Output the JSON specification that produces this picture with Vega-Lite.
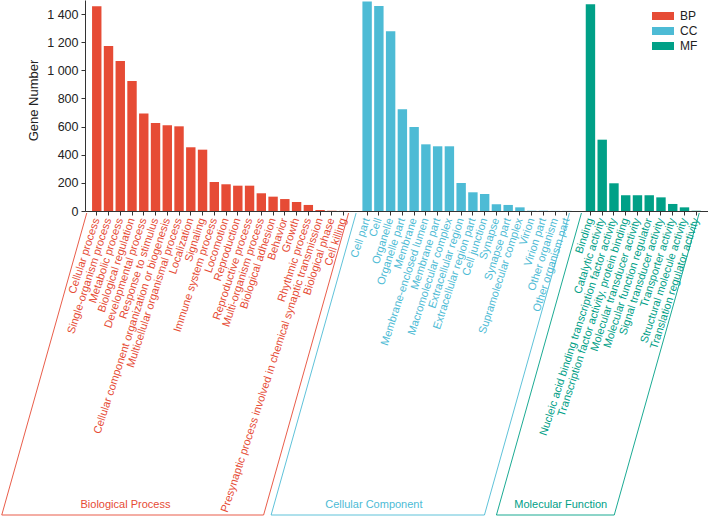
{
  "$schema": "https://vega.github.io/schema/vega-lite/v6.json",
  "width": 623,
  "height": 211,
  "autosize": {"type": "none"},
  "padding": {"left": 85, "top": 0, "right": 0, "bottom": 306},
  "config": {"font": "Liberation Sans", "view": {"stroke": null}},
  "resolve": {"axis": {"x": "independent", "y": "independent"}},
  "layer": [
    {
      "data": {"values": [
        {"term": "Cellular process", "group": "BP", "count": 1455},
        {"term": "Single-organism process", "group": "BP", "count": 1173},
        {"term": "Metabolic process", "group": "BP", "count": 1066},
        {"term": "Biological regulation", "group": "BP", "count": 924},
        {"term": "Developmental process", "group": "BP", "count": 694},
        {"term": "Response to stimulus", "group": "BP", "count": 626},
        {"term": "Cellular component organization or biogenesis", "group": "BP", "count": 609},
        {"term": "Multicellular organismal process", "group": "BP", "count": 602},
        {"term": "Localization", "group": "BP", "count": 453},
        {"term": "Signaling", "group": "BP", "count": 436},
        {"term": "Immune system process", "group": "BP", "count": 206},
        {"term": "Locomotion", "group": "BP", "count": 190},
        {"term": "Reproduction", "group": "BP", "count": 180},
        {"term": "Reproductive process", "group": "BP", "count": 180},
        {"term": "Multi-organism process", "group": "BP", "count": 126},
        {"term": "Biological adhesion", "group": "BP", "count": 102},
        {"term": "Behavior", "group": "BP", "count": 85},
        {"term": "Growth", "group": "BP", "count": 64},
        {"term": "Rhythmic process", "group": "BP", "count": 43},
        {"term": "Presynaptic process involved in chemical synaptic transmission", "group": "BP", "count": 7},
        {"term": "Biological phase", "group": "BP", "count": 2},
        {"term": "Cell killing", "group": "BP", "count": 1},
        {"term": "Cell part", "group": "CC", "count": 1490},
        {"term": "Cell", "group": "CC", "count": 1457},
        {"term": "Organelle", "group": "CC", "count": 1277},
        {"term": "Organelle part", "group": "CC", "count": 723},
        {"term": "Membrane", "group": "CC", "count": 597},
        {"term": "Membrane-enclosed lumen", "group": "CC", "count": 474},
        {"term": "Membrane part", "group": "CC", "count": 460},
        {"term": "Macromolecular complex", "group": "CC", "count": 460},
        {"term": "Extracellular region", "group": "CC", "count": 199},
        {"term": "Extracellular region part", "group": "CC", "count": 133},
        {"term": "Cell junction", "group": "CC", "count": 121},
        {"term": "Synapse", "group": "CC", "count": 48},
        {"term": "Synapse part", "group": "CC", "count": 43},
        {"term": "Supramolecular complex", "group": "CC", "count": 26},
        {"term": "Virion", "group": "CC", "count": 2},
        {"term": "Virion part", "group": "CC", "count": 2},
        {"term": "Other organism", "group": "CC", "count": 1},
        {"term": "Other organism part", "group": "CC", "count": 1},
        {"term": "Binding", "group": "MF", "count": 1469},
        {"term": "Catalytic activity", "group": "MF", "count": 507},
        {"term": "Nucleic acid binding transcription factor activity", "group": "MF", "count": 197},
        {"term": "Transcription factor activity, protein binding", "group": "MF", "count": 112},
        {"term": "Molecular transducer activity", "group": "MF", "count": 112},
        {"term": "Molecular function regulator", "group": "MF", "count": 112},
        {"term": "Signal transducer activity", "group": "MF", "count": 97},
        {"term": "Transporter activity", "group": "MF", "count": 50},
        {"term": "Structural molecule activity", "group": "MF", "count": 26},
        {"term": "Translation regulator activity", "group": "MF", "count": 2}
      ]},
      "mark": {"type": "bar"},
      "encoding": {
        "x": {
          "field": "term", "type": "nominal",
          "scale": {
            "domain": ["Cellular process", "Single-organism process", "Metabolic process", "Biological regulation", "Developmental process", "Response to stimulus", "Cellular component organization or biogenesis", "Multicellular organismal process", "Localization", "Signaling", "Immune system process", "Locomotion", "Reproduction", "Reproductive process", "Multi-organism process", "Biological adhesion", "Behavior", "Growth", "Rhythmic process", "Presynaptic process involved in chemical synaptic transmission", "Biological phase", "Cell killing", " ", "Cell part", "Cell", "Organelle", "Organelle part", "Membrane", "Membrane-enclosed lumen", "Membrane part", "Macromolecular complex", "Extracellular region", "Extracellular region part", "Cell junction", "Synapse", "Synapse part", "Supramolecular complex", "Virion", "Virion part", "Other organism", "Other organism part", "  ", "Binding", "Catalytic activity", "Nucleic acid binding transcription factor activity", "Transcription factor activity, protein binding", "Molecular transducer activity", "Molecular function regulator", "Signal transducer activity", "Transporter activity", "Structural molecule activity", "Translation regulator activity"],
            "paddingInner": 0.2,
            "paddingOuter": 0.6
          },
          "axis": {
            "title": null,
            "labelAngle": -72,
            "labelAlign": "right",
            "labelBaseline": "middle",
            "labelFontSize": 11,
            "labelLimit": 400,
            "labelOverlap": false,
            "labelPadding": 3,
            "tickSize": 4,
            "tickColor": "#333333",
            "domainColor": "#333333",
            "labelColor": {"condition": [{"test": "datum.index < 0.43", "value": "#E64B35"}, {"test": "datum.index < 0.8", "value": "#4DBBD5"}], "value": "#00A087"},
            "tickOpacity": {"condition": {"test": "trim(datum.value) === ''", "value": 0}, "value": 1}
          }
        },
        "y": {
          "field": "count", "type": "quantitative",
          "scale": {"domain": [0, 1500], "nice": false},
          "axis": {
            "title": "Gene Number",
            "titleFontSize": 13,
            "titleFontWeight": "normal",
            "titleColor": "#222222",
            "titleX": -52,
            "titleY": 100,
            "titleAlign": "center",
            "titleBaseline": "middle",
            "values": [0, 200, 400, 600, 800, 1000, 1200, 1400],
            "labelExpr": "replace(format(datum.value, ','), ',', ' ')",
            "labelOverlap": false,
            "labelFontSize": 12.5,
            "labelColor": "#222222",
            "labelPadding": 3,
            "tickSize": 4,
            "tickColor": "#333333",
            "domainColor": "#333333",
            "grid": false
          }
        },
        "color": {
          "field": "group", "type": "nominal",
          "scale": {"domain": ["BP", "CC", "MF"], "range": ["#E64B35", "#4DBBD5", "#00A087"]},
          "legend": {
            "title": null,
            "orient": "none",
            "legendX": 572,
            "legendY": 10,
            "padding": 0,
            "symbolType": "M-2.75,-1H2.75V1H-2.75Z",
            "symbolSize": 64,
            "symbolStrokeWidth": 0,
            "labelFontSize": 12,
            "labelColor": "#222222",
            "labelOffset": 11,
            "rowPadding": 3
          }
        }
      }
    },
    {
      "data": {"values": [
        {"group": "BP", "name": "Biological Process", "first": "Cellular process", "last": "Cell killing"},
        {"group": "CC", "name": "Cellular Component", "first": "Cell part", "last": "Other organism part"},
        {"group": "MF", "name": "Molecular Function", "first": "Binding", "last": "Translation regulator activity"}
      ]},
      "encoding": {
        "color": {"condition": [{"test": "datum.group === 'BP'", "value": "#E64B35"}, {"test": "datum.group === 'CC'", "value": "#4DBBD5"}], "value": "#00A087"}
      },
      "layer": [
        {
          "mark": {"type": "rule", "strokeWidth": 0.9, "yOffset": 2, "y2Offset": 304,
            "xOffset": {"expr": "datum.group === 'BP' ? -10 : datum.group === 'CC' ? -11 : -9"},
            "x2Offset": {"expr": "datum.group === 'BP' ? -95 : datum.group === 'CC' ? -96 : -94"}},
          "encoding": {
            "x": {"field": "first", "type": "nominal", "axis": null},
            "x2": {"field": "first"},
            "y": {"datum": 0, "type": "quantitative", "axis": null},
            "y2": {"datum": 0}
          }
        },
        {
          "mark": {"type": "rule", "strokeWidth": 0.9, "yOffset": 2, "y2Offset": 304,
            "xOffset": {"expr": "datum.group === 'BP' ? 5 : datum.group === 'CC' ? 2.5 : 3"},
            "x2Offset": {"expr": "datum.group === 'BP' ? -80 : datum.group === 'CC' ? -82.5 : -82"}},
          "encoding": {
            "x": {"field": "last", "type": "nominal", "axis": null},
            "x2": {"field": "last"},
            "y": {"datum": 0, "type": "quantitative", "axis": null},
            "y2": {"datum": 0}
          }
        },
        {
          "mark": {"type": "rule", "strokeWidth": 0.9, "yOffset": 304,
            "xOffset": {"expr": "datum.group === 'BP' ? -95 : datum.group === 'CC' ? -96 : -94"},
            "x2Offset": {"expr": "datum.group === 'BP' ? -80 : datum.group === 'CC' ? -82.5 : -82"}},
          "encoding": {
            "x": {"field": "first", "type": "nominal", "axis": null},
            "x2": {"field": "last"},
            "y": {"datum": 0, "type": "quantitative", "axis": null}
          }
        },
        {
          "mark": {"type": "text", "fontSize": 11, "align": "center", "baseline": "middle", "dy": 294,
            "dx": {"expr": "datum.group === 'BP' ? 28.7 : datum.group === 'CC' ? 6.8 : -29.7"}},
          "encoding": {
            "x": {"field": "first", "type": "nominal", "axis": null},
            "y": {"datum": 0, "type": "quantitative", "axis": null},
            "text": {"field": "name"}
          }
        }
      ]
    }
  ]
}
